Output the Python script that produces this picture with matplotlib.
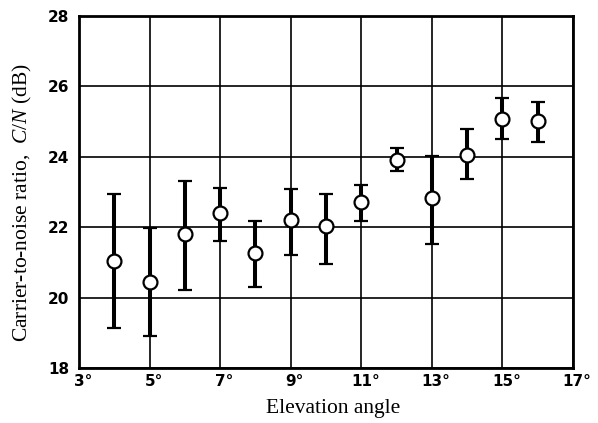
import matplotlib
matplotlib.use("Agg")
import matplotlib.pyplot as plt
import matplotlib.transforms as mtransforms

# Data
elevation = [4, 5, 6, 7, 8, 9, 10, 11, 12, 13, 14, 15, 16]
cn_mean   = [21.05, 20.45, 21.8, 22.4, 21.26, 22.2, 22.02, 22.72, 23.9, 22.83, 24.04, 25.06, 25.03]
cn_low    = [19.13, 18.92, 20.22, 21.6, 20.29, 21.2, 20.96, 22.18, 23.6, 21.52, 23.36, 24.5, 24.42]
cn_high   = [22.94, 21.97, 23.32, 23.1, 22.19, 23.09, 22.95, 23.2, 24.24, 24.02, 24.78, 25.66, 25.55]

x_ticks = [3, 5, 7, 9, 11, 13, 15, 17]
x_ticklabels = ["3°", "5°", "7°", "9°", "11°", "13°", "15°", "17°"]
y_ticks = [18, 20, 22, 24, 26, 28]
y_ticklabels = ["18", "20", "22", "24", "26", "28"]

plt.rcParams['mathtext.fontset'] = 'custom'
plt.rcParams['mathtext.rm'] = 'Liberation Serif'
plt.rcParams['mathtext.it'] = 'Liberation Serif:italic'

fig = plt.figure(figsize=(5.98, 4.23), dpi=100)
ax = fig.add_axes([79/598, 1 - 368/423, (573 - 79)/598, (368 - 16)/423])

ax.set_xlim(3, 17)
ax.set_ylim(18, 28)

ax.grid(True, color='black', linewidth=1.2)
ax.set_axisbelow(True)

yerr = [[m - l for m, l in zip(cn_mean, cn_low)],
        [h - m for m, h in zip(cn_mean, cn_high)]]
ax.errorbar(elevation, cn_mean, yerr=yerr, fmt='o', color='black',
            ecolor='black', elinewidth=2.9, capsize=4.7, capthick=2.9,
            markersize=10, markerfacecolor='white', markeredgecolor='black',
            markeredgewidth=1.6, zorder=3)

for s in ax.spines.values():
    s.set_linewidth(2.0)

tick_font = dict(family=['DejaVu Sans'], weight='bold', size=11)
ax.set_xticks(x_ticks)
ax.set_xticklabels(x_ticklabels, fontdict=tick_font)
ax.set_yticks(y_ticks)
ax.set_yticklabels(y_ticklabels, fontdict=tick_font)
ax.tick_params(axis='both', length=0)
ax.tick_params(axis='x', pad=4)
ax.tick_params(axis='y', pad=7)

offset = mtransforms.ScaledTranslation(4/100, 0, fig.dpi_scale_trans)
for lbl in ax.get_xticklabels():
    lbl.set_transform(lbl.get_transform() + offset)

label_font = dict(family=['Liberation Serif', 'DejaVu Serif'], size=15.5)
ax.set_xlabel("Elevation angle", fontdict=label_font)
ax.set_ylabel("Carrier-to-noise ratio,  $\\mathit{C/N}$ (dB)", fontdict=label_font)
ax.xaxis.set_label_coords(0.514, -0.088)
ax.yaxis.set_label_coords(-0.091, 0.469)

fig.savefig("out.png", dpi=100)
